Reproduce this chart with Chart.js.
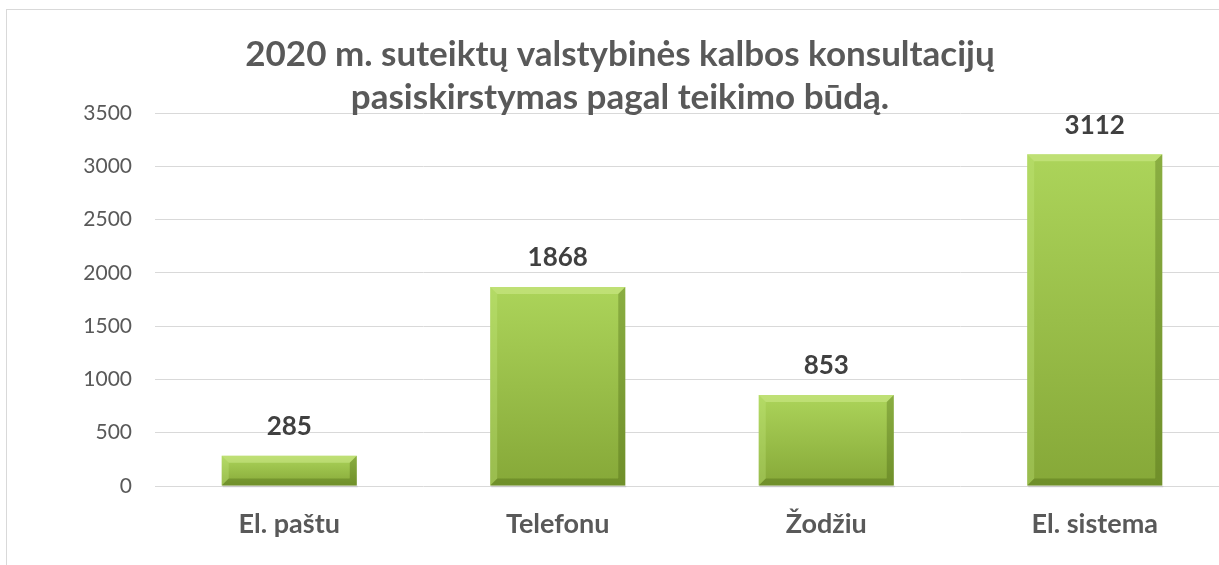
<!DOCTYPE html>
<html>
<head>
<meta charset="utf-8">
<script src="https://cdn.jsdelivr.net/npm/chart.js@4/dist/chart.umd.min.js"></script>
<style>
html,body{margin:0;padding:0;background:#fff;overflow:hidden;width:1219px;height:565px;}
#frame{position:absolute;left:6px;top:9px;width:1400px;height:700px;border:1px solid #d9d9d9;box-sizing:border-box;}
#wrap{position:absolute;left:0;top:0;width:1240px;height:565px;}
</style>
</head>
<body>
<div id="frame"></div>
<div id="wrap"><canvas id="c" width="1240" height="565"></canvas></div>
<script>
const titleLines = ["2020 m. suteiktų valstybinės kalbos konsultacijų", "pasiskirstymas pagal teikimo būdą."];
const categories = ["El. paštu", "Telefonu", "Žodžiu", "El. sistema"];
const values = [285, 1868, 853, 3112];
const yTicks = [0, 500, 1000, 1500, 2000, 2500, 3000, 3500];

const FONT = "Lato, 'Open Sans', sans-serif";

function barGradient(ctx) {
  const chart = ctx.chart;
  const ys = chart.scales.y;
  if (!ys || !chart.chartArea) return '#9cc44a';
  const top = ys.getPixelForValue(ctx.raw);
  const base = ys.getPixelForValue(0);
  if (!isFinite(top) || !isFinite(base) || top === base) return '#9cc44a';
  const g = chart.ctx.createLinearGradient(0, top, 0, base);
  g.addColorStop(0, '#acd45a');
  g.addColorStop(1, '#86a838');
  return g;
}

const bevelPlugin = {
  id: 'bevel',
  afterDatasetsDraw(chart) {
    const ctx = chart.ctx;
    const meta = chart.getDatasetMeta(0);
    meta.data.forEach((bar) => {
      const p = bar.getProps(['x','y','base','width'], true);
      const l = p.x - p.width/2, r = p.x + p.width/2, t = p.y, b = p.base;
      const h = b - t;
      const s = Math.min(7, h/2, p.width/2);
      ctx.save();
      ctx.fillStyle = 'rgba(0,0,0,0.08)';
      ctx.fillRect(l+1, b, p.width, 2);
      ctx.fillStyle = 'rgba(215,240,150,0.45)';
      ctx.beginPath(); ctx.moveTo(l,t); ctx.lineTo(r,t); ctx.lineTo(r-s,t+s); ctx.lineTo(l+s,t+s); ctx.closePath(); ctx.fill();
      ctx.fillStyle = 'rgba(200,235,130,0.3)';
      ctx.beginPath(); ctx.moveTo(l,t); ctx.lineTo(l+s,t+s); ctx.lineTo(l+s,b-s); ctx.lineTo(l,b); ctx.closePath(); ctx.fill();
      ctx.fillStyle = 'rgba(60,85,10,0.3)';
      ctx.beginPath(); ctx.moveTo(r,t); ctx.lineTo(r,b); ctx.lineTo(r-s,b-s); ctx.lineTo(r-s,t+s); ctx.closePath(); ctx.fill();
      ctx.fillStyle = 'rgba(60,85,10,0.3)';
      ctx.beginPath(); ctx.moveTo(l,b); ctx.lineTo(r,b); ctx.lineTo(r-s,b-s); ctx.lineTo(l+s,b-s); ctx.closePath(); ctx.fill();
      ctx.restore();
    });
  }
};

const labelPlugin = {
  id: 'vlabels',
  afterDatasetsDraw(chart) {
    const ctx = chart.ctx;
    const meta = chart.getDatasetMeta(0);
    ctx.save();
    ctx.font = "bold 26px " + FONT;
    ctx.fillStyle = '#404040';
    ctx.textAlign = 'center';
    ctx.textBaseline = 'middle';
    meta.data.forEach((bar, i) => {
      ctx.fillText(String(values[i]), bar.x, bar.y - 29);
    });
    ctx.restore();
  }
};

const titlePlugin = {
  id: 'mytitle',
  afterDraw(chart) {
    const ctx = chart.ctx;
    ctx.save();
    ctx.font = "bold 35px " + FONT;
    ctx.fillStyle = '#595959';
    ctx.textAlign = 'center';
    ctx.textBaseline = 'middle';
    ctx.fillText(titleLines[0], 620, 55);
    ctx.fillText(titleLines[1], 620, 98);
    ctx.restore();
  }
};

new Chart(document.getElementById('c'), {
  type: 'bar',
  data: {
    labels: categories,
    datasets: [{
      data: values,
      backgroundColor: barGradient,
      borderWidth: 0,
      categoryPercentage: 1.0,
      barPercentage: 0.503
    }]
  },
  options: {
    responsive: false,
    animation: false,
    layout: { padding: { left: 0, right: 11, top: 113, bottom: 0 } },
    plugins: { legend: { display: false }, tooltip: { enabled: false }, title: { display: false } },
    scales: {
      y: {
        min: 0, max: 3500,
        afterFit(scale) { scale.width = 155; },
        afterBuildTicks(scale) { scale.ticks = yTicks.map(v => ({ value: v })); },
        border: { display: false },
        grid: { color: '#d9d9d9', lineWidth: 1, drawTicks: false },
        ticks: { padding: 23, color: '#595959', font: { family: FONT, size: 21 }, callback: (v) => String(v) }
      },
      x: {
        afterFit(scale) { scale.height = 79; },
        border: { display: false },
        grid: { display: false, drawTicks: false },
        ticks: { padding: 22, color: '#595959', font: { family: FONT, size: 27, weight: 'bold' } }
      }
    }
  },
  plugins: [bevelPlugin, labelPlugin, titlePlugin]
});
</script>
</body>
</html>
